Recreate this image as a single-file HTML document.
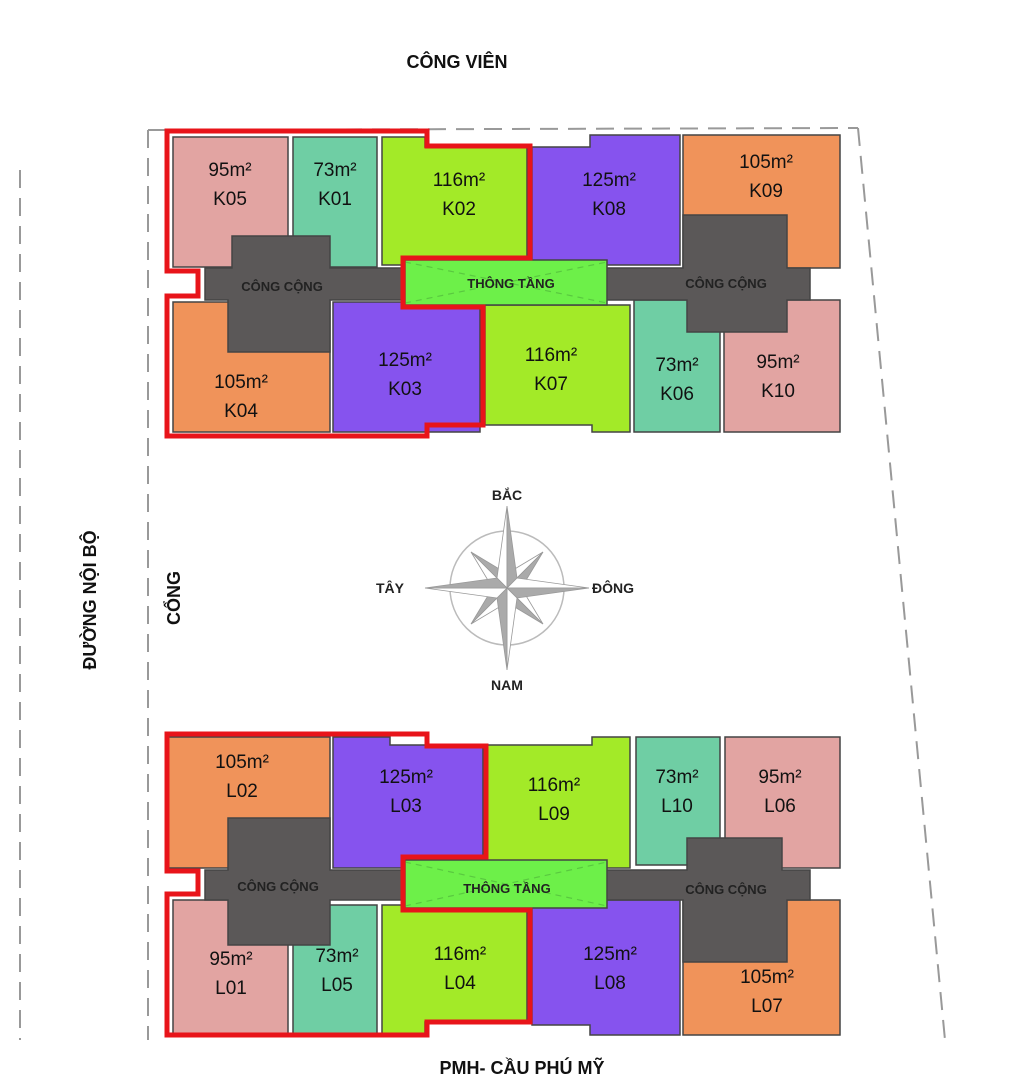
<!DOCTYPE html>
<html><head><meta charset="utf-8"><style>
html,body{margin:0;padding:0;background:#fff;}
svg{display:block;font-family:"Liberation Sans",Arial,sans-serif;}
.u{font-size:19px;fill:#111;text-anchor:middle;}
.c{font-size:13px;font-weight:bold;fill:#222;text-anchor:middle;}
.t{font-size:15px;font-weight:bold;fill:#111;text-anchor:middle;}
</style></head><body>
<svg width="1034" height="1078" viewBox="0 0 1034 1078" xmlns="http://www.w3.org/2000/svg">
<rect width="1034" height="1078" fill="#fff"/>
<g stroke="#999" stroke-width="2" fill="none" stroke-dasharray="18,10">
<line x1="20" y1="170" x2="20" y2="1040"/>
<line x1="148" y1="130" x2="148" y2="1040"/>
<line x1="148" y1="130" x2="858" y2="128"/>
<line x1="858" y1="128" x2="945" y2="1040"/>
</g>
<text x="457" y="68" class="t" style="font-size:18px">CÔNG VIÊN</text>
<text x="522" y="1074" class="t" style="font-size:18px">PMH- CẦU PHÚ MỸ</text>
<text transform="translate(96,600) rotate(-90)" class="t" style="font-size:18px">ĐƯỜNG NỘI BỘ</text>
<text transform="translate(180,598) rotate(-90)" class="t" style="font-size:18px">CỔNG</text>

<g stroke="#444" stroke-width="1.5">
<!-- TOP BLOCK units -->
<rect x="173" y="137" width="115" height="130" fill="#e2a4a2"/>
<rect x="293" y="137" width="84" height="130" fill="#6fcea4"/>
<path d="M382,137 H425 V147 H527 V265 H382 Z" fill="#a3ea28"/>
<path d="M532,147 H590 V135 H680 V265 H532 Z" fill="#8653ee"/>
<path d="M683,135 H840 V268 H683 Z" fill="#f0935a"/>
<rect x="173" y="302" width="157" height="130" fill="#f0935a"/>
<rect x="333" y="302" width="147" height="130" fill="#8653ee"/>
<path d="M485,305 H630 V432 H592 V425 H485 Z" fill="#a3ea28"/>
<rect x="634" y="300" width="86" height="132" fill="#6fcea4"/>
<rect x="724" y="300" width="116" height="132" fill="#e2a4a2"/>
<!-- top gray -->
<path d="M205,268 H232 V236 H330 V268 H683 V215 H787 V268 H810 V300 H787 V332 H687 V300 H330 V352 H228 V300 H205 Z" fill="#5b5858"/>
<rect x="405" y="260" width="202" height="45" fill="#6df049"/>

<!-- BOTTOM BLOCK units -->
<rect x="167" y="737" width="163" height="131" fill="#f0935a"/>
<path d="M333,737 H390 V745 H483 V868 H333 Z" fill="#8653ee"/>
<path d="M487,745 H592 V737 H630 V868 H487 Z" fill="#a3ea28"/>
<rect x="636" y="737" width="84" height="128" fill="#6fcea4"/>
<rect x="725" y="737" width="115" height="131" fill="#e2a4a2"/>
<rect x="173" y="900" width="115" height="135" fill="#e2a4a2"/>
<rect x="293" y="905" width="84" height="130" fill="#6fcea4"/>
<path d="M382,905 H527 V1022 H425 V1035 H382 Z" fill="#a3ea28"/>
<path d="M532,900 H680 V1035 H590 V1025 H532 Z" fill="#8653ee"/>
<rect x="683" y="900" width="157" height="135" fill="#f0935a"/>
<!-- bottom gray -->
<path d="M205,870 H228 V818 H330 V870 H687 V838 H782 V870 H810 V900 H787 V962 H683 V900 H330 V945 H228 V900 H205 Z" fill="#5b5858"/>
<rect x="405" y="860" width="202" height="48" fill="#6df049"/>
</g>
<g stroke="#4cb03a" stroke-width="1.2" stroke-dasharray="6,5" opacity="0.6">
<line x1="405" y1="262" x2="607" y2="303"/><line x1="405" y1="303" x2="607" y2="262"/>
<line x1="405" y1="862" x2="607" y2="906"/><line x1="405" y1="906" x2="607" y2="862"/>
</g>
<g stroke="#e8141a" stroke-width="5" fill="none">
<path d="M167,131 H427 V146 H530 V258 H403 V307 H483 V425 H427 V436 H167 V296 H198 V271 H167 Z"/>
<path d="M167,734 H427 V746 H486 V857 H403 V910 H530 V1022 H427 V1035 H167 V894 H198 V871 H167 Z"/>
</g>

<g>
<text x="230" y="176" class="u">95m²</text><text x="230" y="205" class="u">K05</text>
<text x="335" y="176" class="u">73m²</text><text x="335" y="205" class="u">K01</text>
<text x="459" y="186" class="u">116m²</text><text x="459" y="215" class="u">K02</text>
<text x="609" y="186" class="u">125m²</text><text x="609" y="215" class="u">K08</text>
<text x="766" y="168" class="u">105m²</text><text x="766" y="197" class="u">K09</text>
<text x="241" y="388" class="u">105m²</text><text x="241" y="417" class="u">K04</text>
<text x="405" y="366" class="u">125m²</text><text x="405" y="395" class="u">K03</text>
<text x="551" y="361" class="u">116m²</text><text x="551" y="390" class="u">K07</text>
<text x="677" y="371" class="u">73m²</text><text x="677" y="400" class="u">K06</text>
<text x="778" y="368" class="u">95m²</text><text x="778" y="397" class="u">K10</text>

<text x="242" y="768" class="u">105m²</text><text x="242" y="797" class="u">L02</text>
<text x="406" y="783" class="u">125m²</text><text x="406" y="812" class="u">L03</text>
<text x="554" y="791" class="u">116m²</text><text x="554" y="820" class="u">L09</text>
<text x="677" y="783" class="u">73m²</text><text x="677" y="812" class="u">L10</text>
<text x="780" y="783" class="u">95m²</text><text x="780" y="812" class="u">L06</text>
<text x="231" y="965" class="u">95m²</text><text x="231" y="994" class="u">L01</text>
<text x="337" y="962" class="u">73m²</text><text x="337" y="991" class="u">L05</text>
<text x="460" y="960" class="u">116m²</text><text x="460" y="989" class="u">L04</text>
<text x="610" y="960" class="u">125m²</text><text x="610" y="989" class="u">L08</text>
<text x="767" y="983" class="u">105m²</text><text x="767" y="1012" class="u">L07</text>
</g>
<text x="282" y="291" class="c">CÔNG CỘNG</text>
<text x="511" y="288" class="c">THÔNG TẦNG</text>
<text x="726" y="288" class="c">CÔNG CỘNG</text>
<text x="278" y="891" class="c">CÔNG CỘNG</text>
<text x="507" y="893" class="c">THÔNG TẦNG</text>
<text x="726" y="894" class="c">CÔNG CỘNG</text>

<g transform="translate(507,588)">
<circle r="57" fill="none" stroke="#bbb" stroke-width="1.5"/>
<g stroke="#999" stroke-width="0.8">
<g id="d"><path d="M0,0 L-9,-9 L36,-36 Z" fill="#fff"/><path d="M0,0 L9,9 L36,-36 Z" fill="#aaa"/></g>
<use href="#d" transform="rotate(90)"/><use href="#d" transform="rotate(180)"/><use href="#d" transform="rotate(270)"/>
<g id="m"><path d="M0,0 L-10,-10 L0,-82 Z" fill="#fff"/><path d="M0,0 L10,-10 L0,-82 Z" fill="#aaa"/></g>
<use href="#m" transform="rotate(90)"/><use href="#m" transform="rotate(180)"/><use href="#m" transform="rotate(270)"/>
</g>
</g>
<text x="507" y="500" class="c" style="font-size:14px">BẮC</text>
<text x="507" y="690" class="c" style="font-size:14px">NAM</text>
<text x="390" y="593" class="c" style="font-size:14px">TÂY</text>
<text x="613" y="593" class="c" style="font-size:14px">ĐÔNG</text>
</svg>
</body></html>
